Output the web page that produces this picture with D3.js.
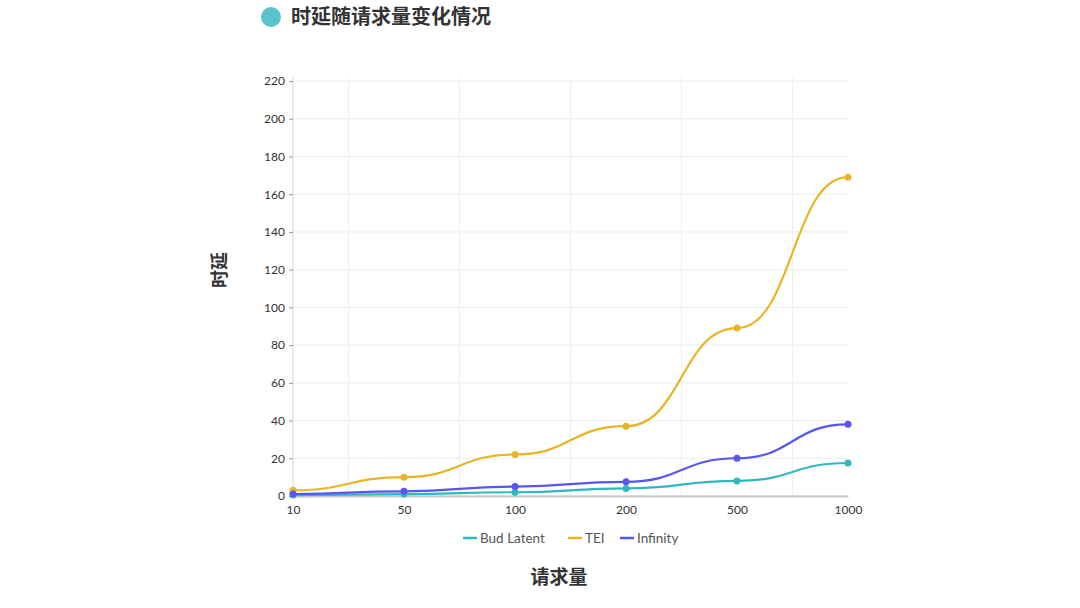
<!DOCTYPE html>
<html>
<head>
<meta charset="utf-8">
<script src="https://cdn.jsdelivr.net/npm/d3@7"></script>
<style>
  body { margin: 0; background: #fff; }
  svg { font-family: Lato, "Noto Sans CJK SC", sans-serif; }
</style>
</head>
<body>
<svg width="1080" height="608"></svg>
<script>
const categories = ['10', '50', '100', '200', '500', '1000'];
const budLatent = [0.5, 1, 2, 4, 8, 17.5];
const tei = [3, 10, 22, 37, 89, 169];
const infinity = [1, 2.5, 5, 7.5, 20, 38];
const yTicks = [0, 20, 40, 60, 80, 100, 120, 140, 160, 180, 200, 220];

const seriesList = [
  { name: 'Bud Latent', values: budLatent, color: '#2fb9bf' },
  { name: 'TEI', values: tei, color: '#e9b526' },
  { name: 'Infinity', values: infinity, color: '#5656f2' }
];

const svg = d3.select('svg');
const plotLeft = 293, plotRight = 848, plotTop = 81, plotBottom = 496;

const x = d3.scalePoint().domain(categories).range([plotLeft, plotRight]);
const y = d3.scaleLinear().domain([0, 220]).range([plotBottom, plotTop]);

// title
svg.append('circle').attr('cx', 271).attr('cy', 17).attr('r', 10).attr('fill', '#5bc3cd');
svg.append('text').attr('x', 291).attr('y', 24).attr('font-size', 20).attr('font-weight', 'bold')
  .attr('fill', '#333').style('font-family', '"Noto Sans CJK SC", sans-serif').text('时延随请求量变化情况');

// grid
const grid = svg.append('g');
grid.selectAll('.hg').data(yTicks.slice(1)).enter().append('line')
  .attr('x1', plotLeft).attr('x2', plotRight)
  .attr('y1', d => y(d)).attr('y2', d => y(d))
  .attr('stroke', '#ececec').attr('stroke-width', 1);
const step = x.step();
grid.selectAll('.vg').data(categories.slice(0, -1)).enter().append('line')
  .attr('x1', d => x(d) + step / 2).attr('x2', d => x(d) + step / 2)
  .attr('y1', plotTop - 4).attr('y2', plotBottom)
  .attr('stroke', '#efefef').attr('stroke-width', 1);

// y axis
const yAxis = svg.append('g').attr('transform', `translate(${plotLeft},0)`)
  .call(d3.axisLeft(y).tickValues(yTicks).tickSize(4).tickPadding(4));
yAxis.attr('font-family', 'Lato, sans-serif');
yAxis.select('.domain').attr('stroke', '#e3e3e3').attr('stroke-width', 1.5).attr('d', `M0,${plotTop - 4}V${plotBottom}`);
yAxis.selectAll('.tick line').attr('stroke', '#999');
yAxis.selectAll('.tick text').attr('font-size', 12).attr('fill', '#333');

// x axis
const xAxis = svg.append('g').attr('transform', `translate(0,${plotBottom})`)
  .call(d3.axisBottom(x).tickSize(0).tickPadding(9));
xAxis.attr('font-family', 'Lato, sans-serif');
xAxis.select('.domain').attr('stroke', '#cfcfcf').attr('stroke-width', 2.5);
xAxis.selectAll('.tick text').attr('font-size', 12).attr('fill', '#333');

// axis titles
svg.append('text').attr('transform', 'translate(226,270) rotate(-90)').attr('text-anchor', 'middle')
  .attr('font-size', 18).attr('font-weight', 'bold').attr('fill', '#333')
  .style('font-family', '"Noto Sans CJK SC", sans-serif').text('时延');
svg.append('text').attr('x', 559).attr('y', 584).attr('text-anchor', 'middle')
  .attr('font-size', 19).attr('font-weight', 'bold').attr('fill', '#333')
  .style('font-family', '"Noto Sans CJK SC", sans-serif').text('请求量');

// lines
const line = d3.line().x((d, i) => x(categories[i])).y(d => y(d)).curve(d3.curveBumpX);
seriesList.forEach(s => {
  svg.append('path').datum(s.values).attr('d', line)
    .attr('fill', 'none').attr('stroke', s.color).attr('stroke-width', 2.2);
  svg.selectAll(null).data(s.values).enter().append('circle')
    .attr('cx', (d, i) => x(categories[i])).attr('cy', d => y(d))
    .attr('r', 3.5).attr('fill', s.color);
});

// legend
const legendX = [463, 568, 620];
const legend = svg.append('g');
seriesList.forEach((s, i) => {
  const g = legend.append('g').attr('transform', `translate(${legendX[i]},538)`);
  g.append('line').attr('x1', 0).attr('x2', 14).attr('stroke', s.color).attr('stroke-width', 2.5);
  g.append('text').attr('x', 17).attr('dy', '0.35em').attr('font-size', 13.5).attr('fill', '#555').text(s.name);
});
</script>
</body>
</html>
